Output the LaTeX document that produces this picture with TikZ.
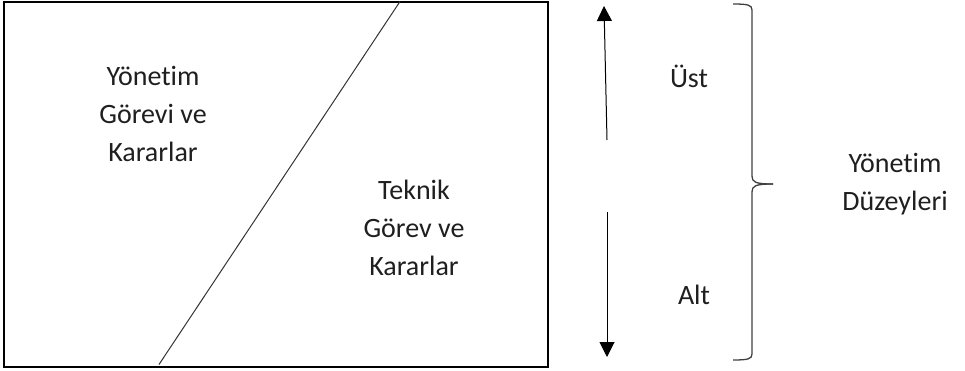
\documentclass[tikz,border=0pt]{standalone}
\usepackage{fontspec}
\setmainfont[Ligatures=NoCommon]{Carlito}
\usetikzlibrary{arrows.meta}
\begin{document}
\begin{tikzpicture}[x=1pt,y=-1pt,
  lbl/.style={align=center,font=\fontsize{28}{38}\selectfont,text=black!88,inner sep=0pt},
  frame/.style={draw=black,line width=2pt},
  thin/.style={draw=black!80,line width=1pt},
  arr/.style={draw=black,line width=1pt,-{Triangle[length=15pt,width=15pt]}}]
\useasboundingbox (0,0) rectangle (965,371);
\node[frame,minimum width=544pt,minimum height=364pt,inner sep=0pt,anchor=north west] (box) at (3,1.5) {};
\coordinate (ltop) at (400,1.5);
\coordinate (lbot) at (159,364.5);
\draw[thin] (ltop) -- (lbot);
\node[lbl] (yg) at (153,114) {Yönetim\\Görevi ve\\Kararlar};
\node[lbl] (tg) at (414,228) {Teknik\\Görev ve\\Kararlar};
\coordinate (ua) at (607,140);
\coordinate (ub) at (604,6);
\draw[arr] (ua) -- (ub);
\coordinate (da) at (607,212);
\coordinate (db) at (607,357);
\draw[arr] (da) -- (db);
\node[lbl] (ust) at (689,76) {Üst};
\node[lbl] (alt) at (694,295) {Alt};
\coordinate (bt) at (733,4);
\coordinate (bb) at (733,360);
\coordinate (bm) at (773,184);
\draw[black!75,line width=1.3pt] (bt) .. controls (748,4) and (752,5) .. (752,10) -- (752,176) .. controls (752,182) and (755,184) .. (bm);
\draw[black!75,line width=1.3pt] (bb) .. controls (748,360) and (752,359) .. (752,354) -- (752,192) .. controls (752,186) and (755,184) .. (bm);
\node[lbl] (yd) at (895,184) {Yönetim\\Düzeyleri};
\end{tikzpicture}
\end{document}
